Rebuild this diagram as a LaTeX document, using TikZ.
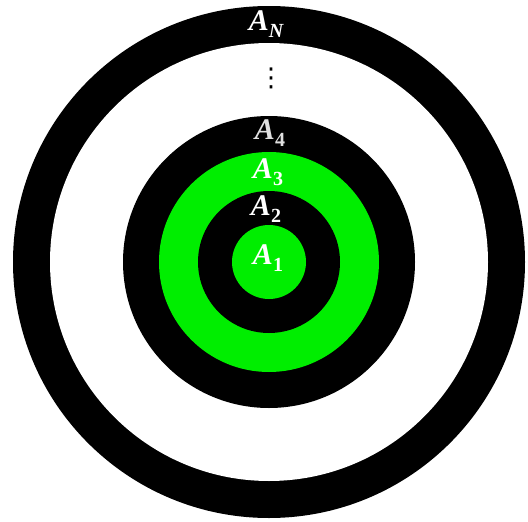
\documentclass[tikz,border=0pt]{standalone}
\usepackage{fontspec}
\setmainfont{Liberation Serif}
\newfontfamily\dejavu{DejaVu Sans}
\definecolor{tgreen}{RGB}{0,238,0}
\tikzset{
  lbl/.style={text=white, inner sep=0pt, font=\fontsize{30}{32}\selectfont\bfseries\itshape},
}
\newcommand{\sublbl}[1]{\raisebox{-0.22em}{\fontsize{20}{22}\selectfont\bfseries\upshape #1}}
\begin{document}
\begin{tikzpicture}[x=1pt,y=-1pt]
\useasboundingbox (0,0) rectangle (528,522);
\coordinate (c) at (269,262);
\fill[black] (c) circle[radius=256pt];
\fill[white] (c) circle[radius=219pt];
\fill[black] (c) circle[radius=146pt];
\fill[tgreen] (c) circle[radius=110pt];
\fill[black] (c) circle[radius=71pt];
\fill[tgreen] (c) circle[radius=37pt];
\node[lbl] (aN) at (266,24) {A\sublbl{\itshape N}};
\node[text=black, inner sep=0pt, font=\fontsize{26}{28}\selectfont\dejavu] (dots) at (271,78) {⋮};
\node[lbl, text=white!88!black] (a4) at (270,133) {A\sublbl{4}};
\node[lbl] (a3) at (268,172) {A\sublbl{3}};
\node[lbl] (a2) at (266,209) {A\sublbl{2}};
\node[lbl] (a1) at (268,258) {A\sublbl{1}};
\end{tikzpicture}
\end{document}
